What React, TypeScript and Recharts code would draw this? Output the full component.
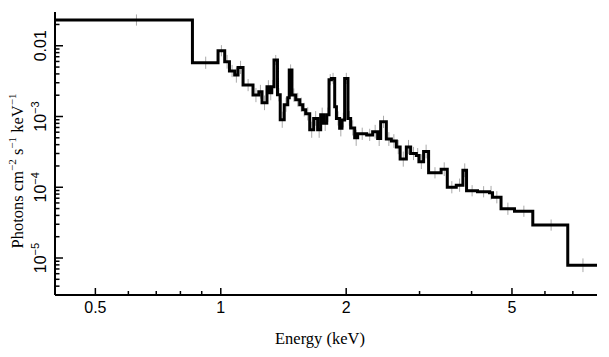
import { ComposedChart, Line, Scatter, ErrorBar, XAxis, YAxis } from 'recharts';

// bin edges in keV (69 edges -> 68 bins)
const binEdges = [
  0.4, 0.855, 0.985, 1.022, 1.049, 1.08, 1.1, 1.131, 1.195, 1.234, 1.256, 1.291, 1.311, 1.325,
  1.342, 1.368, 1.389, 1.42, 1.448, 1.46, 1.482, 1.513, 1.547, 1.573, 1.599, 1.635, 1.671, 1.708,
  1.737, 1.766, 1.796, 1.819, 1.843, 1.877, 1.895, 1.929, 1.954, 1.983, 2.02, 2.05, 2.096, 2.131,
  2.24, 2.315, 2.38, 2.42, 2.497, 2.567, 2.639, 2.695, 2.789, 2.856, 2.947, 2.992, 3.068, 3.154,
  3.38, 3.497, 3.675, 3.812, 3.89, 4.133, 4.417, 4.491, 4.707, 5.07, 5.61, 6.806, 8.0,
];

// photons cm^-2 s^-1 keV^-1 per bin
const flux = [
  0.0231, 0.00575, 0.0085, 0.00594, 0.00439, 0.00385, 0.00494, 0.00278, 0.00201, 0.00224,
  0.00156, 0.00263, 0.00217, 0.00263, 0.00628, 0.00203, 0.0009, 0.00147, 0.00184, 0.00454,
  0.00201, 0.00173, 0.00147, 0.00125, 0.00109, 0.00065, 0.00094, 0.00065, 0.00106, 0.0008,
  0.00106, 0.00331, 0.00345, 0.00137, 0.00094, 0.00068, 0.00089, 0.00345, 0.00094, 0.00069,
  0.0005, 0.00057, 0.00055, 0.00061, 0.00049, 0.00084, 0.00048, 0.00045, 0.00037, 0.00025,
  0.00037, 0.0003, 0.00028, 0.00023, 0.00032, 0.00016, 0.00018, 0.0001, 0.000107, 0.000174,
  0.0000892, 0.0000864, 0.0000836, 0.0000722, 0.0000497, 0.0000458, 0.0000292, 0.0000079,
];

// fractional 1-sigma errors
const fluxErr = [
  0.2, 0.22, 0.2, 0.25, 0.22, 0.28, 0.24, 0.22, 0.26, 0.25,
  0.27, 0.24, 0.28, 0.25, 0.18, 0.24, 0.3, 0.26, 0.28, 0.2,
  0.24, 0.25, 0.26, 0.25, 0.24, 0.3, 0.27, 0.3, 0.26, 0.28,
  0.26, 0.2, 0.2, 0.25, 0.26, 0.3, 0.27, 0.2, 0.27, 0.28,
  0.3, 0.22, 0.22, 0.25, 0.28, 0.22, 0.25, 0.25, 0.26, 0.28,
  0.26, 0.24, 0.28, 0.27, 0.25, 0.2, 0.25, 0.22, 0.24, 0.25,
  0.2, 0.2, 0.25, 0.22, 0.22, 0.2, 0.2, 0.25,
];

const xTicks = [0.5, 0.6, 0.7, 0.8, 0.9, 1, 2, 3, 4, 5, 6, 7];
const xLabelTicks = [0.5, 1, 2, 5];
const xLabels = ['0.5', '1', '2', '5'];

const yTicks = [
  4e-6, 5e-6, 6e-6, 7e-6, 8e-6, 9e-6, 1e-5,
  2e-5, 3e-5, 4e-5, 5e-5, 6e-5, 7e-5, 8e-5, 9e-5, 1e-4,
  2e-4, 3e-4, 4e-4, 5e-4, 6e-4, 7e-4, 8e-4, 9e-4, 1e-3,
  2e-3, 3e-3, 4e-3, 5e-3, 6e-3, 7e-3, 8e-3, 9e-3, 1e-2, 2e-2,
];
const yLabelTicks = [1e-5, 1e-4, 1e-3, 1e-2];
const yLabels = [['10', '−5'], ['10', '−4'], ['10', '−3'], ['0.01', '']];

const stepData = binEdges.map((e, i) => ({ e, v: flux[Math.min(i, flux.length - 1)] }));
const pointData = flux.map((v, i) => {
  const k = 1 + fluxErr[i];
  return { e: (binEdges[i] + binEdges[i + 1]) / 2, v, err: [v - v / k, v * (k - 1)] };
});

const SANS = '"Liberation Sans", Arial, Helvetica, sans-serif';
const SERIF = '"Liberation Serif", "Times New Roman", serif';

const findIdx = (arr: number[], v: number) => arr.findIndex((t) => Math.abs(t - v) / t < 1e-6);

const BottomTick = (props: any) => {
  const { x, y, payload } = props;
  const i = findIdx(xLabelTicks, payload.value);
  return (
    <g>
      <line x1={x} x2={x} y1={y} y2={y - (i >= 0 ? 7 : 4)} stroke="#000" strokeWidth={1.5} />
      {i >= 0 && (
        <text x={x} y={y + 18} textAnchor="middle" fontFamily={SANS} fontSize={16} fill="#000">
          {xLabels[i]}
        </text>
      )}
    </g>
  );
};

const TopTick = (props: any) => {
  const { x, y, payload } = props;
  const i = findIdx(xLabelTicks, payload.value);
  return <line x1={x} x2={x} y1={y} y2={y + (i >= 0 ? 7 : 4)} stroke="#000" strokeWidth={1.5} />;
};

const LeftTick = (props: any) => {
  const { x, y, payload } = props;
  const i = findIdx(yLabelTicks, payload.value);
  const lx = x - 9;
  return (
    <g>
      <line x1={x} x2={x + (i >= 0 ? 8 : 4.5)} y1={y} y2={y} stroke="#000" strokeWidth={1.5} />
      {i >= 0 && (
        <text
          x={lx}
          y={y}
          transform={`rotate(-90 ${lx} ${y})`}
          textAnchor="middle"
          fontFamily={SANS}
          fontSize={16}
          fill="#000"
        >
          {yLabels[i][0]}
          {yLabels[i][1] && (
            <tspan fontSize={11} dy={-7}>
              {yLabels[i][1]}
            </tspan>
          )}
        </text>
      )}
    </g>
  );
};

const RightTick = (props: any) => {
  const { x, y, payload } = props;
  const i = findIdx(yLabelTicks, payload.value);
  return <line x1={x} x2={x - (i >= 0 ? 8 : 4.5)} y1={y} y2={y} stroke="#000" strokeWidth={1.5} />;
};

export default function App() {
  return (
    <div style={{ position: 'absolute', left: 0, top: 0, width: 609, height: 357, background: '#fff' }}>
      <ComposedChart width={609} height={357} margin={{ top: 12, right: 12, left: 0, bottom: 0 }}>
        <XAxis
          xAxisId="b"
          dataKey="e"
          type="number"
          scale="log"
          domain={[0.4, 8]}
          allowDataOverflow
          ticks={xTicks}
          interval={0}
          height={62}
          tickSize={0}
          tickMargin={0}
          tick={<BottomTick />}
          axisLine={{ stroke: '#000', strokeWidth: 2 }}
        />
        <XAxis
          xAxisId="t"
          orientation="top"
          dataKey="e"
          type="number"
          scale="log"
          domain={[0.4, 8]}
          allowDataOverflow
          ticks={xTicks}
          interval={0}
          height={0}
          tickSize={0}
          tickMargin={0}
          tick={<TopTick />}
          axisLine={{ stroke: '#000', strokeWidth: 2 }}
        />
        <YAxis
          yAxisId="l"
          dataKey="v"
          type="number"
          scale="log"
          domain={[3e-6, 0.03]}
          allowDataOverflow
          ticks={yTicks}
          interval={0}
          width={55}
          tickSize={0}
          tickMargin={0}
          tick={<LeftTick />}
          axisLine={{ stroke: '#000', strokeWidth: 2 }}
        />
        <YAxis
          yAxisId="r"
          orientation="right"
          dataKey="v"
          type="number"
          scale="log"
          domain={[3e-6, 0.03]}
          allowDataOverflow
          ticks={yTicks}
          interval={0}
          width={0}
          tickSize={0}
          tickMargin={0}
          tick={<RightTick />}
          axisLine={{ stroke: '#000', strokeWidth: 2 }}
        />
        <Scatter
          xAxisId="t"
          yAxisId="r"
          data={pointData}
          dataKey="v"
          shape={() => <g />}
          isAnimationActive={false}
        >
          <ErrorBar dataKey="err" direction="y" width={0} stroke="#aaaaaa" strokeWidth={1} isAnimationActive={false} />
        </Scatter>
        <Line
          xAxisId="b"
          yAxisId="l"
          data={stepData}
          dataKey="v"
          type="stepAfter"
          stroke="#000"
          strokeWidth={3}
          strokeLinejoin="miter"
          dot={false}
          activeDot={false}
          isAnimationActive={false}
        />
      </ComposedChart>
      <svg width={609} height={357} style={{ position: 'absolute', left: 0, top: 0, pointerEvents: 'none' }}>
        <text x={320} y={344} textAnchor="middle" fontFamily={SERIF} fontSize={16.5} fill="#000">
          Energy (keV)
        </text>
        <text
          x={23}
          y={171}
          transform="rotate(-90 23 171)"
          textAnchor="middle"
          fontFamily={SERIF}
          fontSize={16.5}
          fill="#000"
        >
          Photons cm
          <tspan fontSize={11} dy={-7}>−2</tspan>
          <tspan dy={7}> s</tspan>
          <tspan fontSize={11} dy={-7}>−1</tspan>
          <tspan dy={7}> keV</tspan>
          <tspan fontSize={11} dy={-7}>−1</tspan>
        </text>
      </svg>
    </div>
  );
}
